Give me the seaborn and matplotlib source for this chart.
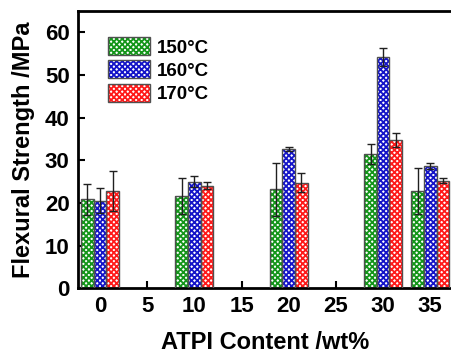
import matplotlib
matplotlib.use("Agg")
import matplotlib.pyplot as plt
import seaborn as sns
import pandas as pd
from matplotlib.patches import Patch, Rectangle
from matplotlib.legend_handler import HandlerTuple

content = [0, 10, 20, 30, 35]
temps = ["150°C", "160°C", "170°C"]
strength_150 = [20.8, 21.6, 23.2, 31.4, 22.8]
strength_160 = [20.5, 25.0, 32.6, 54.2, 28.7]
strength_170 = [22.7, 24.0, 24.7, 34.8, 25.2]
err_150 = [3.6, 4.3, 6.2, 2.4, 5.3]
err_160 = [2.9, 1.2, 0.5, 2.2, 0.7]
err_170 = [4.7, 0.8, 2.2, 1.6, 0.6]
xticks = [0, 5, 10, 15, 20, 25, 30, 35]
yticks = [0, 10, 20, 30, 40, 50, 60]
colors = ["#14961a", "#1414c8", "#ff1a1a"]
HATCH = "xxxxxx"

rows = []
for t, vals in zip(temps, [strength_150, strength_160, strength_170]):
    for c, v in zip(content, vals):
        rows.append({"content": c, "strength": v, "temp": t})
df = pd.DataFrame(rows)
errs = [err_150, err_160, err_170]

sns.set_style("ticks")
plt.rcParams["font.family"] = ["Liberation Sans", "DejaVu Sans"]
plt.rcParams["font.weight"] = "bold"
plt.rcParams["hatch.linewidth"] = 1.3
for k in ["text.color", "axes.labelcolor", "xtick.color", "ytick.color", "axes.edgecolor"]:
    plt.rcParams[k] = "black"

fig = plt.figure(figsize=(4.52, 3.54), dpi=100)
ax = fig.add_axes([78 / 452, 0.186, 374 / 452, 0.783])

sns.barplot(data=df, x="content", y="strength", hue="temp", native_scale=True,
            palette=colors, errorbar=None, ax=ax, legend=False, hue_order=temps)

conts = list(ax.containers)
for i, cont in enumerate(conts):
    col = colors[i]
    xs, ys = [], []
    for bar in cont:
        bar.set_facecolor("white")
        bar.set_edgecolor(col)
        bar.set_hatch(HATCH)
        bar.set_linewidth(0)
        ax.add_patch(Rectangle((bar.get_x(), 0), bar.get_width(), bar.get_height(),
                               fill=False, edgecolor="#505050", linewidth=1.0, zorder=3))
        xs.append(bar.get_x() + bar.get_width() / 2)
        ys.append(bar.get_height())
    ax.errorbar(xs, ys, yerr=errs[i], fmt="none", ecolor="#202020",
                elinewidth=1.0, capsize=3, capthick=1.0, zorder=4)

ax.set_xlim(-2.33, 37.3)
ax.set_ylim(0, 65)
ax.set_xticks(xticks)
ax.set_xticklabels([str(v) for v in xticks])
ax.set_yticks(yticks)
ax.tick_params(direction="in", length=5, width=1.5, labelsize=16, pad=6)
for lab in ax.get_xticklabels() + ax.get_yticklabels():
    lab.set_fontweight("bold")
for s in ["left", "bottom", "top"]:
    ax.spines[s].set_linewidth(2)
ax.spines["right"].set_visible(False)

ax.set_xlabel("ATPI Content /wt%", fontsize=17, fontweight="bold", labelpad=10)
ax.set_ylabel("Flexural Strength /MPa", fontsize=17, fontweight="bold", labelpad=7)

handles = [(Patch(facecolor="white", edgecolor=c, hatch=HATCH, linewidth=0),
            Patch(facecolor="none", edgecolor="#505050", linewidth=1.0)) for c in colors]
leg = ax.legend(handles, temps, loc="upper left", bbox_to_anchor=(0.08, 0.905),
                frameon=False, handlelength=2.24, handleheight=1.1,
                labelspacing=0.2, handletextpad=0.37, borderpad=0, borderaxespad=0,
                prop={"weight": "bold", "size": 13.5},
                handler_map={tuple: HandlerTuple(ndivide=1, pad=0)})

fig.savefig("out.png", dpi=100)
